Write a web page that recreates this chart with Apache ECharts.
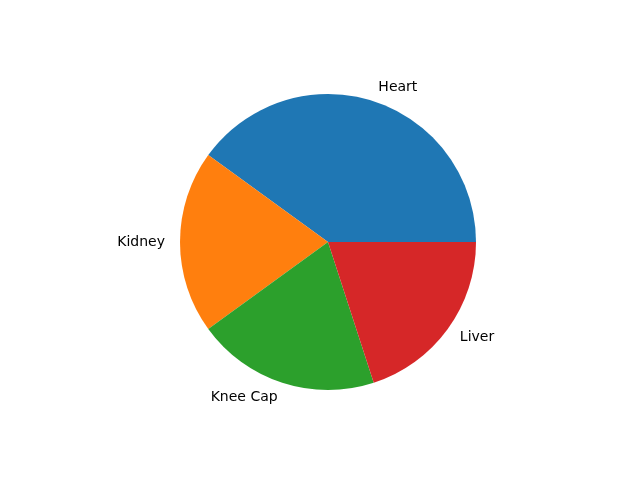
<!DOCTYPE html>
<html>
<head>
    <meta charset="utf-8">
    <title>ECharts</title>
    <script src="https://cdn.jsdelivr.net/npm/echarts@6/dist/echarts.min.js"></script>
</head>
<body style="margin:0">
    <div id="main" style="width: 640px;height:480px;"></div>
    <script type="text/javascript">
        // slice names and sizes
        var labels = ['Heart', 'Kidney', 'Knee Cap', 'Liver'];
        var sizes = [40, 20, 20, 20];
        var colors = ['#1f77b4', '#ff7f0e', '#2ca02c', '#d62728'];

        var myChart = echarts.init(document.getElementById('main'));

        var data = [];
        for (var i = 0; i < labels.length; i++) {
            data.push({name: labels[i], value: sizes[i]});
        }

        var option = {
            animation: false,
            backgroundColor: '#ffffff',
            color: colors,
            series: [{
                type: 'pie',
                center: [328, 242],
                radius: [0, 148],
                startAngle: 0,
                clockwise: false,
                avoidLabelOverlap: false,
                itemStyle: {borderWidth: 0},
                emphasis: {disabled: true},
                label: {
                    show: true,
                    position: 'outside',
                    color: '#000000',
                    fontFamily: 'DejaVu Sans',
                    fontSize: 14,
                    padding: [3, 0, 0, 0],
                    distanceToLabelLine: 0
                },
                labelLine: {
                    show: false,
                    length: 15,
                    length2: 0
                },
                data: data
            }]
        };

        myChart.setOption(option);
    </script>
</body>
</html>
